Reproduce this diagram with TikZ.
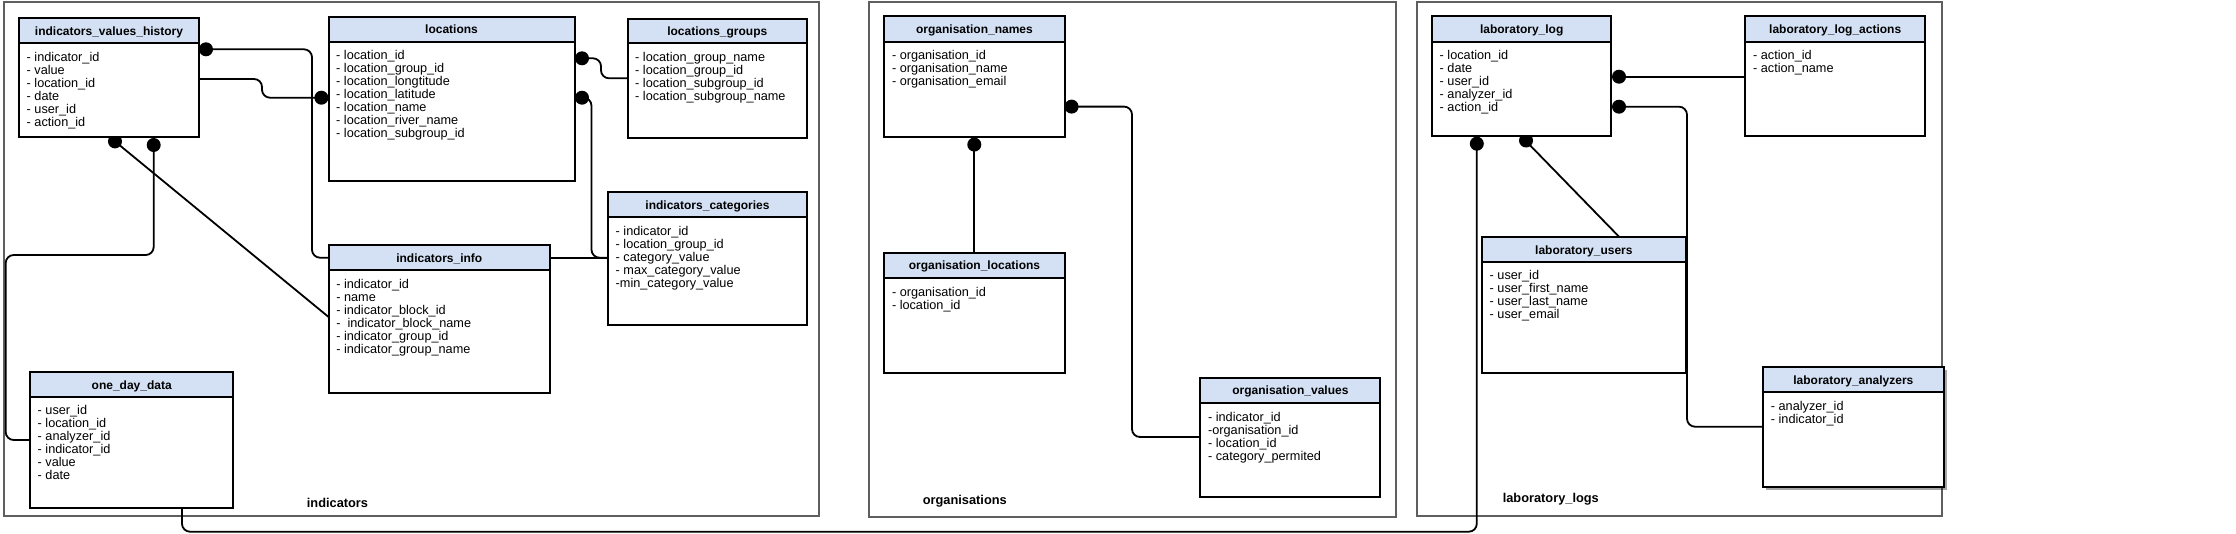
\documentclass[tikz,border=0pt]{standalone}
\usepackage{fontspec}
\setmainfont{Liberation Sans}
\usetikzlibrary{fit,shadows}
\pgfdeclarelayer{bg}
\pgfsetlayers{bg,main}
\definecolor{hdr}{HTML}{D4E1F5}
\definecolor{frm}{HTML}{5F5F5F}
\tikzset{
 tbox/.style={draw=black, line width=2pt, fill=white, inner sep=0pt, outer sep=0pt},
 thead/.style={draw=black, line width=2pt, fill=hdr, inner sep=0pt, outer sep=0pt},
 ttitle/.style={font=\fontsize{12}{13}\selectfont\bfseries, inner sep=0pt, anchor=base},
 tfield/.style={font=\fontsize{12.7}{13}\selectfont, anchor=base west, inner sep=0pt},
 frame/.style={draw=frm, line width=2pt, inner sep=0pt, outer sep=0pt},
 flabel/.style={font=\fontsize{12.8}{14}\selectfont\bfseries, inner sep=0pt, anchor=base},
 conn/.style={draw=black, line width=1.8pt, rounded corners=8pt},
 erdot/.style={circle, fill=black, inner sep=0pt, minimum size=14pt},
 shadowed/.style={drop shadow={shadow xshift=3pt, shadow yshift=-3pt, fill=black, opacity=0.35}},
}
\newcommand\ertable[9][]{%
  \node[tbox,#1,fit={(#3,#4) (#5,#6)}] (#2) {};
  \node[thead,fit={(#3,#4) (#5,#7)}] (#2-h) {};
  \node[ttitle] (#2-t) at ({(#3+#5)/2},{(#4+#7)/2+4.5}) {#8};
  \foreach \f [count=\i from 0] in {#9} {\node[tfield] (#2-f\i) at ({#3+7.5},{#7+18+13*\i}) {\f};}
}
\begin{document}
\begin{tikzpicture}[x=1pt,y=-1pt]
\useasboundingbox (0,0) rectangle (2236,533);

% tables
\ertable{ivh}{19}{18}{199}{137}{43}{indicators\_values\_history}{- indicator\_id, - value, - location\_id, - date, - user\_id, - action\_id}
\ertable{loc}{328.5}{16.7}{574.5}{180.7}{41.7}{locations}{- location\_id, - location\_group\_id, - location\_longtitude, - location\_latitude, - location\_name, - location\_river\_name, - location\_subgroup\_id}
\ertable{lgrp}{627.5}{19}{807}{138.3}{43.3}{locations\_groups}{- location\_group\_name, - location\_group\_id, - location\_subgroup\_id, - location\_subgroup\_name}
\ertable{icat}{608}{192.3}{807}{325}{217.3}{indicators\_categories}{- indicator\_id, - location\_group\_id, - category\_value, - max\_category\_value, -min\_category\_value}
\ertable{info}{328.6}{245}{550}{392.7}{270}{indicators\_info}{- indicator\_id, - name, - indicator\_block\_id, - \ indicator\_block\_name, - indicator\_group\_id, - indicator\_group\_name}
\ertable{odd}{30}{372.3}{233.4}{507.7}{396.7}{one\_day\_data}{- user\_id, - location\_id, - analyzer\_id, - indicator\_id, - value, - date}
\ertable{onames}{884.3}{16.3}{1064.6}{136.7}{41.5}{organisation\_names}{- organisation\_id, - organisation\_name, - organisation\_email}
\ertable{olocs}{884.3}{252.7}{1064.6}{372.8}{278.2}{organisation\_locations}{- organisation\_id, - location\_id}
\ertable{ovals}{1200.4}{377.6}{1380.4}{497.3}{403}{organisation\_values}{- indicator\_id, -organisation\_id, - location\_id, - category\_permited}
\ertable{llog}{1432}{16}{1611.4}{136}{41.7}{laboratory\_log}{- location\_id, - date, - user\_id, - analyzer\_id, - action\_id}
\ertable{lact}{1745.4}{16}{1925}{136}{41.7}{laboratory\_log\_actions}{- action\_id, - action\_name}
\ertable{lusr}{1482}{237.3}{1685.7}{372.7}{261.7}{laboratory\_users}{- user\_id, - user\_first\_name, - user\_last\_name, - user\_email}
\ertable[shadowed]{lanal}{1763.2}{367.3}{1943.5}{487.3}{392.3}{laboratory\_analyzers}{- analyzer\_id, - indicator\_id}

% frame labels
\node[flabel] (lblInd) at (337.5,507.5) {indicators};
\node[flabel] (lblOrg) at (964.8,504.5) {organisations};
\node[flabel] (lblLab) at (1550.8,502.2) {laboratory\_logs};

\begin{pgfonlayer}{bg}
\fill[white] (0,0) rectangle (2236,533);
\node[frame, fit={(3.8,1.5) (819,516)}] (fInd) {};
\node[frame, fit={(869,1.5) (1395.7,517)}] (fOrg) {};
\node[frame, fit={(1417,1.5) (1942,516)}] (fLab) {};

% indicators connectors
\draw[conn] (ivh.east |- 0,49.3) -- (312,49.3) -- (312,257.7) -- (info.west |- 0,257.7);
\node[erdot] (d1) at (206,49.3) {};
\draw[conn] (ivh.east |- 0,79) -- (262,79) -- (262,97.7) -- (loc.west |- 0,97.7);
\node[erdot] (d2) at (321.4,97.7) {};
\draw[conn] (loc.east |- 0,58.3) -- (601,58.3) -- (601,78.3) -- (lgrp.west |- 0,78.3);
\node[erdot] (d3) at (582,58.3) {};
\draw[conn] (loc.east |- 0,97.7) -- (591.5,97.7) -- (591.5,257.7) -- (icat.west |- 0,257.7);
\node[erdot] (d4) at (582,97.7) {};
\draw[conn] (info.east |- 0,257.7) -- (icat.west |- 0,257.7);
\draw[conn] (ivh.south -| 153.7,0) -- (153.7,255) -- (5.7,255) -- (5.7,440) -- (odd.west |- 0,440);
\node[erdot] (d5) at (153.7,145) {};
\draw[conn] (ivh.south -| 109.6,0) -- (info.west |- 0,317);
\node[erdot] (d6) at (115,141.4) {};
\draw[conn] (odd.south -| 182,0) -- (182,531.7) -- (1476.8,531.7) -- (llog.south -| 1476.8,0);
\node[erdot] (d7) at (1476.8,143.7) {};

% organisations connectors
\draw[conn] (onames.south -| 974.3,0) -- (olocs.north -| 974.3,0);
\node[erdot] (d8) at (974.3,144.6) {};
\draw[conn] (onames.east |- 0,106.6) -- (1132,106.6) -- (1132,437) -- (ovals.west |- 0,437);
\node[erdot] (d9) at (1071.6,106.6) {};

% laboratory connectors
\draw[conn] (llog.east |- 0,76.7) -- (lact.west |- 0,76.7);
\node[erdot] (d10) at (1619,76.7) {};
\draw[conn] (llog.east |- 0,106.7) -- (1687,106.7) -- (1687,426.7) -- (lanal.west |- 0,426.7);
\node[erdot] (d11) at (1619,106.7) {};
\draw[conn] (llog.south -| 1521,0) -- (lusr.north -| 1619.6,0);
\node[erdot] (d12) at (1526,140.5) {};
\end{pgfonlayer}
\end{tikzpicture}
\end{document}
